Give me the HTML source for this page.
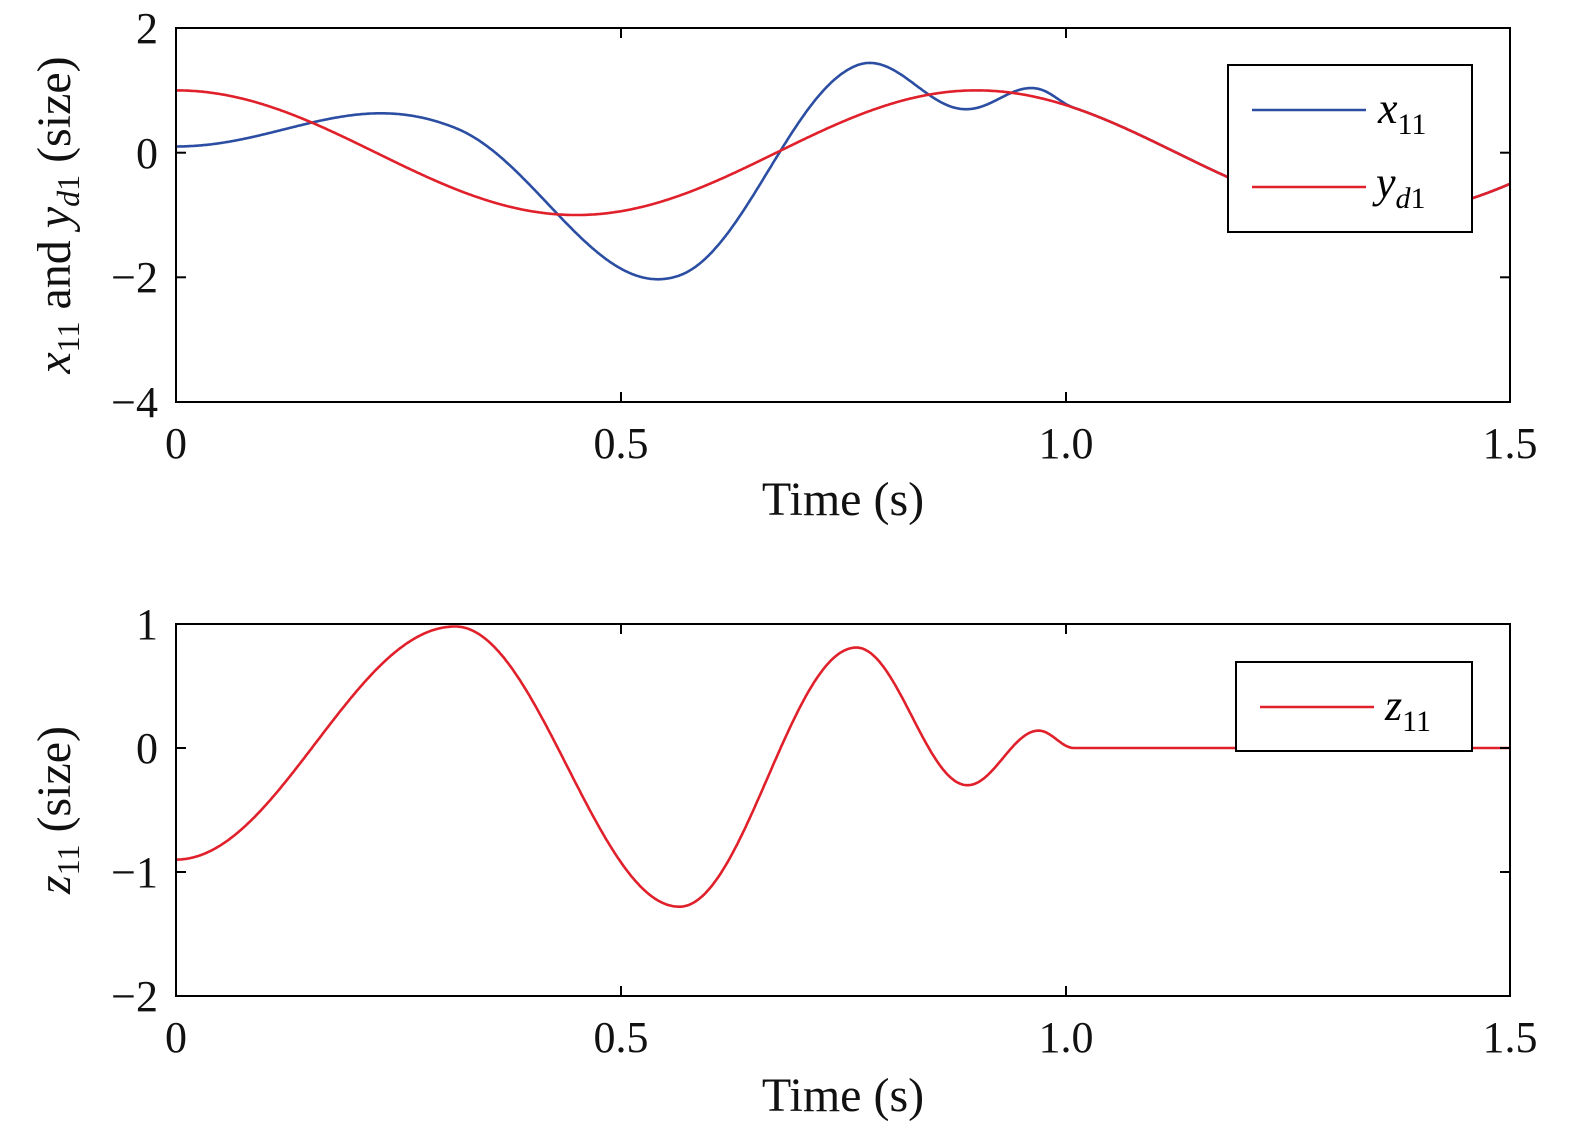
<!DOCTYPE html>
<html><head><meta charset="utf-8"><style>
html,body{margin:0;background:#fff;overflow:hidden;}
svg{display:block;font-family:"Liberation Serif",serif;}
</style></head><body>
<svg id="s" width="1575" height="1132" xmlns="http://www.w3.org/2000/svg">
<g font-size="44" fill="#111">
<text x="158" y="43" text-anchor="end">2</text>
<text x="158" y="168" text-anchor="end">0</text>
<text x="158" y="292" text-anchor="end">−2</text>
<text x="158" y="417" text-anchor="end">−4</text>
<text x="176" y="458" text-anchor="middle">0</text>
<text x="621" y="458" text-anchor="middle">0.5</text>
<text x="1066" y="458" text-anchor="middle">1.0</text>
<text x="1510" y="458" text-anchor="middle">1.5</text>
<text x="843" y="515" text-anchor="middle" font-size="48">Time (s)</text>
<text transform="translate(70,215) rotate(-90)" text-anchor="middle" font-size="48"><tspan font-style="italic">x</tspan><tspan font-size="32" dy="9">11</tspan><tspan dy="-9"> and </tspan><tspan font-style="italic">y</tspan><tspan font-size="32" dy="9" font-style="italic">d</tspan><tspan font-size="32">1</tspan><tspan dy="-9"> (size)</tspan></text>
<text x="158" y="639" text-anchor="end">1</text>
<text x="158" y="763" text-anchor="end">0</text>
<text x="158" y="887" text-anchor="end">−1</text>
<text x="158" y="1011" text-anchor="end">−2</text>
<text x="176" y="1052" text-anchor="middle">0</text>
<text x="621" y="1052" text-anchor="middle">0.5</text>
<text x="1066" y="1052" text-anchor="middle">1.0</text>
<text x="1510" y="1052" text-anchor="middle">1.5</text>
<text x="843" y="1111" text-anchor="middle" font-size="48">Time (s)</text>
<text transform="translate(70,810) rotate(-90)" text-anchor="middle" font-size="48"><tspan font-style="italic">z</tspan><tspan font-size="32" dy="9">11</tspan><tspan dy="-9"> (size)</tspan></text>
</g>
<g id="curves" fill="none" stroke-width="2.6"></g>
<g fill="none" stroke="#000" stroke-width="2" id="frames">
<rect x="176" y="28" width="1334" height="374"/>
<rect x="176" y="624" width="1334" height="372"/>
</g>
<g>
<rect x="1228" y="65" width="244" height="167" fill="#fff" stroke="#000" stroke-width="2"/>
<line x1="1252" y1="110" x2="1366" y2="110" stroke="#2b4ea3" stroke-width="2.6"/>
<line x1="1252" y1="187" x2="1366" y2="187" stroke="#e0202a" stroke-width="2.6"/>
<text x="1378" y="123" font-size="44" font-style="italic">x<tspan font-size="30" font-style="normal" dy="11">11</tspan></text>
<text x="1376" y="197" font-size="44" font-style="italic">y<tspan font-size="30" dy="11">d</tspan><tspan font-size="30" font-style="normal">1</tspan></text>
<rect x="1236" y="662" width="236" height="89" fill="#fff" stroke="#000" stroke-width="2"/>
<line x1="1260" y1="707" x2="1374" y2="707" stroke="#e0202a" stroke-width="2.6"/>
<text x="1385" y="720" font-size="44" font-style="italic">z<tspan font-size="30" font-style="normal" dy="11">11</tspan></text>
</g>
</svg>
<script>
var ext=[[0,-0.9],[0.314,0.98],[0.566,-1.28],[0.765,0.81],[0.89,-0.3],[0.97,0.14],[1.01,0],[1.5,0]];
function z(t){for(var i=0;i<ext.length-1;i++){var a=ext[i],b=ext[i+1];if(t<=b[0]){var u=(t-a[0])/(b[0]-a[0]);return a[1]+(b[1]-a[1])*(1-Math.cos(Math.PI*u))/2;}}return 0;}
function yd(t){return Math.cos(2*Math.PI*t/0.9);}
function X(t){return 176+t*889.33;}
var p1="",p2="",p3="";
for(var i=0;i<=1500;i++){var t=i/1000;var c=i?"L":"M";
p1+=c+X(t).toFixed(1)+","+(152.7-62.33*(yd(t)+z(t))).toFixed(1);
p2+=c+X(t).toFixed(1)+","+(152.7-62.33*yd(t)).toFixed(1);
p3+=c+X(t).toFixed(1)+","+(748-124*z(t)).toFixed(1);}
var g=document.getElementById("curves");
g.innerHTML='<path d="'+p1+'" stroke="#2b4ea3"/><path d="'+p2+'" stroke="#e0202a"/><path d="'+p3+'" stroke="#e0202a"/>';
var f=document.getElementById("frames"),s="";
function ticks(y0,y1,ys){[176,621,1066,1510].forEach(function(x){s+='<line x1="'+x+'" y1="'+y1+'" x2="'+x+'" y2="'+(y1-10)+'"/><line x1="'+x+'" y1="'+y0+'" x2="'+x+'" y2="'+(y0+10)+'"/>';});
ys.forEach(function(y){s+='<line x1="176" y1="'+y+'" x2="186" y2="'+y+'"/><line x1="1510" y1="'+y+'" x2="1500" y2="'+y+'"/>';});}
ticks(28,402,[28,152.7,277.3,402]);ticks(624,996,[624,748,872,996]);
f.innerHTML+=s;
</script>
</body></html>
